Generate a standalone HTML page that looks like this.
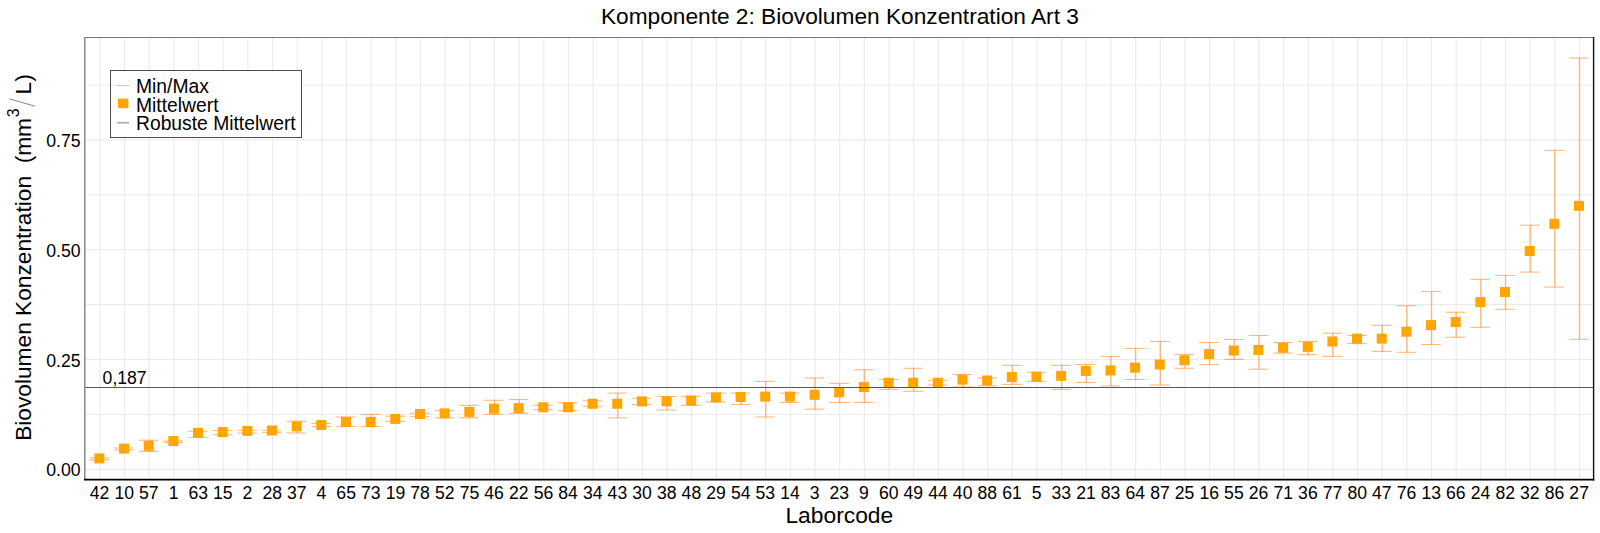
<!DOCTYPE html>
<html><head><meta charset="utf-8"><style>
html,body{margin:0;padding:0;background:#fff;width:1600px;height:533px;overflow:hidden}
svg{display:block}
text{font-family:"Liberation Sans",sans-serif;fill:#000}
</style></head><body>
<svg width="1600" height="533" viewBox="0 0 1600 533">
<line x1="84.5" x2="1593.5" y1="469.35" y2="469.35" stroke="#ebebeb" stroke-width="1.1"/>
<line x1="84.5" x2="1593.5" y1="414.44" y2="414.44" stroke="#ebebeb" stroke-width="1.1"/>
<line x1="84.5" x2="1593.5" y1="359.53" y2="359.53" stroke="#ebebeb" stroke-width="1.1"/>
<line x1="84.5" x2="1593.5" y1="304.61" y2="304.61" stroke="#ebebeb" stroke-width="1.1"/>
<line x1="84.5" x2="1593.5" y1="249.70" y2="249.70" stroke="#ebebeb" stroke-width="1.1"/>
<line x1="84.5" x2="1593.5" y1="194.79" y2="194.79" stroke="#ebebeb" stroke-width="1.1"/>
<line x1="84.5" x2="1593.5" y1="139.88" y2="139.88" stroke="#ebebeb" stroke-width="1.1"/>
<line x1="84.5" x2="1593.5" y1="84.96" y2="84.96" stroke="#ebebeb" stroke-width="1.1"/>
<line x1="99.90" x2="99.90" y1="37.5" y2="479.5" stroke="#ebebeb" stroke-width="1.1"/>
<line x1="124.56" x2="124.56" y1="37.5" y2="479.5" stroke="#ebebeb" stroke-width="1.1"/>
<line x1="149.22" x2="149.22" y1="37.5" y2="479.5" stroke="#ebebeb" stroke-width="1.1"/>
<line x1="173.88" x2="173.88" y1="37.5" y2="479.5" stroke="#ebebeb" stroke-width="1.1"/>
<line x1="198.54" x2="198.54" y1="37.5" y2="479.5" stroke="#ebebeb" stroke-width="1.1"/>
<line x1="223.20" x2="223.20" y1="37.5" y2="479.5" stroke="#ebebeb" stroke-width="1.1"/>
<line x1="247.86" x2="247.86" y1="37.5" y2="479.5" stroke="#ebebeb" stroke-width="1.1"/>
<line x1="272.52" x2="272.52" y1="37.5" y2="479.5" stroke="#ebebeb" stroke-width="1.1"/>
<line x1="297.18" x2="297.18" y1="37.5" y2="479.5" stroke="#ebebeb" stroke-width="1.1"/>
<line x1="321.84" x2="321.84" y1="37.5" y2="479.5" stroke="#ebebeb" stroke-width="1.1"/>
<line x1="346.50" x2="346.50" y1="37.5" y2="479.5" stroke="#ebebeb" stroke-width="1.1"/>
<line x1="371.16" x2="371.16" y1="37.5" y2="479.5" stroke="#ebebeb" stroke-width="1.1"/>
<line x1="395.82" x2="395.82" y1="37.5" y2="479.5" stroke="#ebebeb" stroke-width="1.1"/>
<line x1="420.48" x2="420.48" y1="37.5" y2="479.5" stroke="#ebebeb" stroke-width="1.1"/>
<line x1="445.14" x2="445.14" y1="37.5" y2="479.5" stroke="#ebebeb" stroke-width="1.1"/>
<line x1="469.80" x2="469.80" y1="37.5" y2="479.5" stroke="#ebebeb" stroke-width="1.1"/>
<line x1="494.46" x2="494.46" y1="37.5" y2="479.5" stroke="#ebebeb" stroke-width="1.1"/>
<line x1="519.12" x2="519.12" y1="37.5" y2="479.5" stroke="#ebebeb" stroke-width="1.1"/>
<line x1="543.78" x2="543.78" y1="37.5" y2="479.5" stroke="#ebebeb" stroke-width="1.1"/>
<line x1="568.44" x2="568.44" y1="37.5" y2="479.5" stroke="#ebebeb" stroke-width="1.1"/>
<line x1="593.10" x2="593.10" y1="37.5" y2="479.5" stroke="#ebebeb" stroke-width="1.1"/>
<line x1="617.76" x2="617.76" y1="37.5" y2="479.5" stroke="#ebebeb" stroke-width="1.1"/>
<line x1="642.42" x2="642.42" y1="37.5" y2="479.5" stroke="#ebebeb" stroke-width="1.1"/>
<line x1="667.08" x2="667.08" y1="37.5" y2="479.5" stroke="#ebebeb" stroke-width="1.1"/>
<line x1="691.74" x2="691.74" y1="37.5" y2="479.5" stroke="#ebebeb" stroke-width="1.1"/>
<line x1="716.40" x2="716.40" y1="37.5" y2="479.5" stroke="#ebebeb" stroke-width="1.1"/>
<line x1="741.06" x2="741.06" y1="37.5" y2="479.5" stroke="#ebebeb" stroke-width="1.1"/>
<line x1="765.72" x2="765.72" y1="37.5" y2="479.5" stroke="#ebebeb" stroke-width="1.1"/>
<line x1="790.38" x2="790.38" y1="37.5" y2="479.5" stroke="#ebebeb" stroke-width="1.1"/>
<line x1="815.04" x2="815.04" y1="37.5" y2="479.5" stroke="#ebebeb" stroke-width="1.1"/>
<line x1="839.70" x2="839.70" y1="37.5" y2="479.5" stroke="#ebebeb" stroke-width="1.1"/>
<line x1="864.36" x2="864.36" y1="37.5" y2="479.5" stroke="#ebebeb" stroke-width="1.1"/>
<line x1="889.02" x2="889.02" y1="37.5" y2="479.5" stroke="#ebebeb" stroke-width="1.1"/>
<line x1="913.68" x2="913.68" y1="37.5" y2="479.5" stroke="#ebebeb" stroke-width="1.1"/>
<line x1="938.34" x2="938.34" y1="37.5" y2="479.5" stroke="#ebebeb" stroke-width="1.1"/>
<line x1="963.00" x2="963.00" y1="37.5" y2="479.5" stroke="#ebebeb" stroke-width="1.1"/>
<line x1="987.66" x2="987.66" y1="37.5" y2="479.5" stroke="#ebebeb" stroke-width="1.1"/>
<line x1="1012.32" x2="1012.32" y1="37.5" y2="479.5" stroke="#ebebeb" stroke-width="1.1"/>
<line x1="1036.98" x2="1036.98" y1="37.5" y2="479.5" stroke="#ebebeb" stroke-width="1.1"/>
<line x1="1061.64" x2="1061.64" y1="37.5" y2="479.5" stroke="#ebebeb" stroke-width="1.1"/>
<line x1="1086.30" x2="1086.30" y1="37.5" y2="479.5" stroke="#ebebeb" stroke-width="1.1"/>
<line x1="1110.96" x2="1110.96" y1="37.5" y2="479.5" stroke="#ebebeb" stroke-width="1.1"/>
<line x1="1135.62" x2="1135.62" y1="37.5" y2="479.5" stroke="#ebebeb" stroke-width="1.1"/>
<line x1="1160.28" x2="1160.28" y1="37.5" y2="479.5" stroke="#ebebeb" stroke-width="1.1"/>
<line x1="1184.94" x2="1184.94" y1="37.5" y2="479.5" stroke="#ebebeb" stroke-width="1.1"/>
<line x1="1209.60" x2="1209.60" y1="37.5" y2="479.5" stroke="#ebebeb" stroke-width="1.1"/>
<line x1="1234.26" x2="1234.26" y1="37.5" y2="479.5" stroke="#ebebeb" stroke-width="1.1"/>
<line x1="1258.92" x2="1258.92" y1="37.5" y2="479.5" stroke="#ebebeb" stroke-width="1.1"/>
<line x1="1283.58" x2="1283.58" y1="37.5" y2="479.5" stroke="#ebebeb" stroke-width="1.1"/>
<line x1="1308.24" x2="1308.24" y1="37.5" y2="479.5" stroke="#ebebeb" stroke-width="1.1"/>
<line x1="1332.90" x2="1332.90" y1="37.5" y2="479.5" stroke="#ebebeb" stroke-width="1.1"/>
<line x1="1357.56" x2="1357.56" y1="37.5" y2="479.5" stroke="#ebebeb" stroke-width="1.1"/>
<line x1="1382.22" x2="1382.22" y1="37.5" y2="479.5" stroke="#ebebeb" stroke-width="1.1"/>
<line x1="1406.88" x2="1406.88" y1="37.5" y2="479.5" stroke="#ebebeb" stroke-width="1.1"/>
<line x1="1431.54" x2="1431.54" y1="37.5" y2="479.5" stroke="#ebebeb" stroke-width="1.1"/>
<line x1="1456.20" x2="1456.20" y1="37.5" y2="479.5" stroke="#ebebeb" stroke-width="1.1"/>
<line x1="1480.86" x2="1480.86" y1="37.5" y2="479.5" stroke="#ebebeb" stroke-width="1.1"/>
<line x1="1505.52" x2="1505.52" y1="37.5" y2="479.5" stroke="#ebebeb" stroke-width="1.1"/>
<line x1="1530.18" x2="1530.18" y1="37.5" y2="479.5" stroke="#ebebeb" stroke-width="1.1"/>
<line x1="1554.84" x2="1554.84" y1="37.5" y2="479.5" stroke="#ebebeb" stroke-width="1.1"/>
<line x1="1579.50" x2="1579.50" y1="37.5" y2="479.5" stroke="#ebebeb" stroke-width="1.1"/>
<line x1="99.90" x2="99.90" y1="457.80" y2="459.80" stroke="#ff7d19" stroke-opacity="0.5" stroke-width="1.4"/>
<line x1="89.55" x2="109.05" y1="457.80" y2="457.80" stroke="#ff7d19" stroke-opacity="0.55" stroke-width="1.1"/>
<line x1="89.55" x2="109.05" y1="459.80" y2="459.80" stroke="#ff7d19" stroke-opacity="0.55" stroke-width="1.1"/>
<line x1="124.56" x2="124.56" y1="448.00" y2="450.00" stroke="#ff7d19" stroke-opacity="0.5" stroke-width="1.4"/>
<line x1="114.21" x2="133.71" y1="448.00" y2="448.00" stroke="#ff7d19" stroke-opacity="0.55" stroke-width="1.1"/>
<line x1="114.21" x2="133.71" y1="450.00" y2="450.00" stroke="#ff7d19" stroke-opacity="0.55" stroke-width="1.1"/>
<line x1="149.22" x2="149.22" y1="440.20" y2="451.40" stroke="#ff7d19" stroke-opacity="0.5" stroke-width="1.4"/>
<line x1="138.87" x2="158.37" y1="440.20" y2="440.20" stroke="#ff7d19" stroke-opacity="0.55" stroke-width="1.1"/>
<line x1="138.87" x2="158.37" y1="451.40" y2="451.40" stroke="#ff7d19" stroke-opacity="0.55" stroke-width="1.1"/>
<line x1="173.88" x2="173.88" y1="441.00" y2="442.50" stroke="#ff7d19" stroke-opacity="0.5" stroke-width="1.4"/>
<line x1="163.53" x2="183.03" y1="441.00" y2="441.00" stroke="#ff7d19" stroke-opacity="0.55" stroke-width="1.1"/>
<line x1="163.53" x2="183.03" y1="442.50" y2="442.50" stroke="#ff7d19" stroke-opacity="0.55" stroke-width="1.1"/>
<line x1="198.54" x2="198.54" y1="431.25" y2="437.50" stroke="#ff7d19" stroke-opacity="0.5" stroke-width="1.4"/>
<line x1="188.19" x2="207.69" y1="431.25" y2="431.25" stroke="#ff7d19" stroke-opacity="0.55" stroke-width="1.1"/>
<line x1="188.19" x2="207.69" y1="437.50" y2="437.50" stroke="#ff7d19" stroke-opacity="0.55" stroke-width="1.1"/>
<line x1="223.20" x2="223.20" y1="430.50" y2="434.70" stroke="#ff7d19" stroke-opacity="0.5" stroke-width="1.4"/>
<line x1="212.85" x2="232.35" y1="430.50" y2="430.50" stroke="#ff7d19" stroke-opacity="0.55" stroke-width="1.1"/>
<line x1="212.85" x2="232.35" y1="434.70" y2="434.70" stroke="#ff7d19" stroke-opacity="0.55" stroke-width="1.1"/>
<line x1="247.86" x2="247.86" y1="430.20" y2="433.10" stroke="#ff7d19" stroke-opacity="0.5" stroke-width="1.4"/>
<line x1="237.51" x2="257.01" y1="430.20" y2="430.20" stroke="#ff7d19" stroke-opacity="0.55" stroke-width="1.1"/>
<line x1="237.51" x2="257.01" y1="433.10" y2="433.10" stroke="#ff7d19" stroke-opacity="0.55" stroke-width="1.1"/>
<line x1="272.52" x2="272.52" y1="430.20" y2="432.40" stroke="#ff7d19" stroke-opacity="0.5" stroke-width="1.4"/>
<line x1="262.17" x2="281.67" y1="430.20" y2="430.20" stroke="#ff7d19" stroke-opacity="0.55" stroke-width="1.1"/>
<line x1="262.17" x2="281.67" y1="432.40" y2="432.40" stroke="#ff7d19" stroke-opacity="0.55" stroke-width="1.1"/>
<line x1="297.18" x2="297.18" y1="421.25" y2="433.00" stroke="#ff7d19" stroke-opacity="0.5" stroke-width="1.4"/>
<line x1="286.83" x2="306.33" y1="421.25" y2="421.25" stroke="#ff7d19" stroke-opacity="0.55" stroke-width="1.1"/>
<line x1="286.83" x2="306.33" y1="433.00" y2="433.00" stroke="#ff7d19" stroke-opacity="0.55" stroke-width="1.1"/>
<line x1="321.84" x2="321.84" y1="423.40" y2="426.60" stroke="#ff7d19" stroke-opacity="0.5" stroke-width="1.4"/>
<line x1="311.49" x2="330.99" y1="423.40" y2="423.40" stroke="#ff7d19" stroke-opacity="0.55" stroke-width="1.1"/>
<line x1="311.49" x2="330.99" y1="426.60" y2="426.60" stroke="#ff7d19" stroke-opacity="0.55" stroke-width="1.1"/>
<line x1="346.50" x2="346.50" y1="417.00" y2="426.60" stroke="#ff7d19" stroke-opacity="0.5" stroke-width="1.4"/>
<line x1="336.15" x2="355.65" y1="417.00" y2="417.00" stroke="#ff7d19" stroke-opacity="0.55" stroke-width="1.1"/>
<line x1="336.15" x2="355.65" y1="426.60" y2="426.60" stroke="#ff7d19" stroke-opacity="0.55" stroke-width="1.1"/>
<line x1="371.16" x2="371.16" y1="414.40" y2="426.60" stroke="#ff7d19" stroke-opacity="0.5" stroke-width="1.4"/>
<line x1="360.81" x2="380.31" y1="414.40" y2="414.40" stroke="#ff7d19" stroke-opacity="0.55" stroke-width="1.1"/>
<line x1="360.81" x2="380.31" y1="426.60" y2="426.60" stroke="#ff7d19" stroke-opacity="0.55" stroke-width="1.1"/>
<line x1="395.82" x2="395.82" y1="416.25" y2="421.40" stroke="#ff7d19" stroke-opacity="0.5" stroke-width="1.4"/>
<line x1="385.47" x2="404.97" y1="416.25" y2="416.25" stroke="#ff7d19" stroke-opacity="0.55" stroke-width="1.1"/>
<line x1="385.47" x2="404.97" y1="421.40" y2="421.40" stroke="#ff7d19" stroke-opacity="0.55" stroke-width="1.1"/>
<line x1="420.48" x2="420.48" y1="413.30" y2="416.40" stroke="#ff7d19" stroke-opacity="0.5" stroke-width="1.4"/>
<line x1="410.13" x2="429.63" y1="413.30" y2="413.30" stroke="#ff7d19" stroke-opacity="0.55" stroke-width="1.1"/>
<line x1="410.13" x2="429.63" y1="416.40" y2="416.40" stroke="#ff7d19" stroke-opacity="0.55" stroke-width="1.1"/>
<line x1="445.14" x2="445.14" y1="410.60" y2="417.80" stroke="#ff7d19" stroke-opacity="0.5" stroke-width="1.4"/>
<line x1="434.79" x2="454.29" y1="410.60" y2="410.60" stroke="#ff7d19" stroke-opacity="0.55" stroke-width="1.1"/>
<line x1="434.79" x2="454.29" y1="417.80" y2="417.80" stroke="#ff7d19" stroke-opacity="0.55" stroke-width="1.1"/>
<line x1="469.80" x2="469.80" y1="405.30" y2="417.80" stroke="#ff7d19" stroke-opacity="0.5" stroke-width="1.4"/>
<line x1="459.45" x2="478.95" y1="405.30" y2="405.30" stroke="#ff7d19" stroke-opacity="0.55" stroke-width="1.1"/>
<line x1="459.45" x2="478.95" y1="417.80" y2="417.80" stroke="#ff7d19" stroke-opacity="0.55" stroke-width="1.1"/>
<line x1="494.46" x2="494.46" y1="400.30" y2="414.40" stroke="#ff7d19" stroke-opacity="0.5" stroke-width="1.4"/>
<line x1="484.11" x2="503.61" y1="400.30" y2="400.30" stroke="#ff7d19" stroke-opacity="0.55" stroke-width="1.1"/>
<line x1="484.11" x2="503.61" y1="414.40" y2="414.40" stroke="#ff7d19" stroke-opacity="0.55" stroke-width="1.1"/>
<line x1="519.12" x2="519.12" y1="399.50" y2="413.40" stroke="#ff7d19" stroke-opacity="0.5" stroke-width="1.4"/>
<line x1="508.77" x2="528.27" y1="399.50" y2="399.50" stroke="#ff7d19" stroke-opacity="0.55" stroke-width="1.1"/>
<line x1="508.77" x2="528.27" y1="413.40" y2="413.40" stroke="#ff7d19" stroke-opacity="0.55" stroke-width="1.1"/>
<line x1="543.78" x2="543.78" y1="405.30" y2="409.70" stroke="#ff7d19" stroke-opacity="0.5" stroke-width="1.4"/>
<line x1="533.43" x2="552.93" y1="405.30" y2="405.30" stroke="#ff7d19" stroke-opacity="0.55" stroke-width="1.1"/>
<line x1="533.43" x2="552.93" y1="409.70" y2="409.70" stroke="#ff7d19" stroke-opacity="0.55" stroke-width="1.1"/>
<line x1="568.44" x2="568.44" y1="402.70" y2="410.60" stroke="#ff7d19" stroke-opacity="0.5" stroke-width="1.4"/>
<line x1="558.09" x2="577.59" y1="402.70" y2="402.70" stroke="#ff7d19" stroke-opacity="0.55" stroke-width="1.1"/>
<line x1="558.09" x2="577.59" y1="410.60" y2="410.60" stroke="#ff7d19" stroke-opacity="0.55" stroke-width="1.1"/>
<line x1="593.10" x2="593.10" y1="400.90" y2="406.40" stroke="#ff7d19" stroke-opacity="0.5" stroke-width="1.4"/>
<line x1="582.75" x2="602.25" y1="400.90" y2="400.90" stroke="#ff7d19" stroke-opacity="0.55" stroke-width="1.1"/>
<line x1="582.75" x2="602.25" y1="406.40" y2="406.40" stroke="#ff7d19" stroke-opacity="0.55" stroke-width="1.1"/>
<line x1="617.76" x2="617.76" y1="393.10" y2="417.80" stroke="#ff7d19" stroke-opacity="0.5" stroke-width="1.4"/>
<line x1="607.41" x2="626.91" y1="393.10" y2="393.10" stroke="#ff7d19" stroke-opacity="0.55" stroke-width="1.1"/>
<line x1="607.41" x2="626.91" y1="417.80" y2="417.80" stroke="#ff7d19" stroke-opacity="0.55" stroke-width="1.1"/>
<line x1="642.42" x2="642.42" y1="398.30" y2="404.50" stroke="#ff7d19" stroke-opacity="0.5" stroke-width="1.4"/>
<line x1="632.07" x2="651.57" y1="398.30" y2="398.30" stroke="#ff7d19" stroke-opacity="0.55" stroke-width="1.1"/>
<line x1="632.07" x2="651.57" y1="404.50" y2="404.50" stroke="#ff7d19" stroke-opacity="0.55" stroke-width="1.1"/>
<line x1="667.08" x2="667.08" y1="396.40" y2="410.00" stroke="#ff7d19" stroke-opacity="0.5" stroke-width="1.4"/>
<line x1="656.73" x2="676.23" y1="396.40" y2="396.40" stroke="#ff7d19" stroke-opacity="0.55" stroke-width="1.1"/>
<line x1="656.73" x2="676.23" y1="410.00" y2="410.00" stroke="#ff7d19" stroke-opacity="0.55" stroke-width="1.1"/>
<line x1="691.74" x2="691.74" y1="396.40" y2="405.30" stroke="#ff7d19" stroke-opacity="0.5" stroke-width="1.4"/>
<line x1="681.39" x2="700.89" y1="396.40" y2="396.40" stroke="#ff7d19" stroke-opacity="0.55" stroke-width="1.1"/>
<line x1="681.39" x2="700.89" y1="405.30" y2="405.30" stroke="#ff7d19" stroke-opacity="0.55" stroke-width="1.1"/>
<line x1="716.40" x2="716.40" y1="393.10" y2="401.90" stroke="#ff7d19" stroke-opacity="0.5" stroke-width="1.4"/>
<line x1="706.05" x2="725.55" y1="393.10" y2="393.10" stroke="#ff7d19" stroke-opacity="0.55" stroke-width="1.1"/>
<line x1="706.05" x2="725.55" y1="401.90" y2="401.90" stroke="#ff7d19" stroke-opacity="0.55" stroke-width="1.1"/>
<line x1="741.06" x2="741.06" y1="393.10" y2="404.50" stroke="#ff7d19" stroke-opacity="0.5" stroke-width="1.4"/>
<line x1="730.71" x2="750.21" y1="393.10" y2="393.10" stroke="#ff7d19" stroke-opacity="0.55" stroke-width="1.1"/>
<line x1="730.71" x2="750.21" y1="404.50" y2="404.50" stroke="#ff7d19" stroke-opacity="0.55" stroke-width="1.1"/>
<line x1="765.72" x2="765.72" y1="381.40" y2="417.00" stroke="#ff7d19" stroke-opacity="0.5" stroke-width="1.4"/>
<line x1="755.37" x2="774.87" y1="381.40" y2="381.40" stroke="#ff7d19" stroke-opacity="0.55" stroke-width="1.1"/>
<line x1="755.37" x2="774.87" y1="417.00" y2="417.00" stroke="#ff7d19" stroke-opacity="0.55" stroke-width="1.1"/>
<line x1="790.38" x2="790.38" y1="393.10" y2="402.50" stroke="#ff7d19" stroke-opacity="0.5" stroke-width="1.4"/>
<line x1="780.03" x2="799.53" y1="393.10" y2="393.10" stroke="#ff7d19" stroke-opacity="0.55" stroke-width="1.1"/>
<line x1="780.03" x2="799.53" y1="402.50" y2="402.50" stroke="#ff7d19" stroke-opacity="0.55" stroke-width="1.1"/>
<line x1="815.04" x2="815.04" y1="378.00" y2="409.20" stroke="#ff7d19" stroke-opacity="0.5" stroke-width="1.4"/>
<line x1="804.69" x2="824.19" y1="378.00" y2="378.00" stroke="#ff7d19" stroke-opacity="0.55" stroke-width="1.1"/>
<line x1="804.69" x2="824.19" y1="409.20" y2="409.20" stroke="#ff7d19" stroke-opacity="0.55" stroke-width="1.1"/>
<line x1="839.70" x2="839.70" y1="383.30" y2="402.50" stroke="#ff7d19" stroke-opacity="0.5" stroke-width="1.4"/>
<line x1="829.35" x2="848.85" y1="383.30" y2="383.30" stroke="#ff7d19" stroke-opacity="0.55" stroke-width="1.1"/>
<line x1="829.35" x2="848.85" y1="402.50" y2="402.50" stroke="#ff7d19" stroke-opacity="0.55" stroke-width="1.1"/>
<line x1="864.36" x2="864.36" y1="369.70" y2="402.50" stroke="#ff7d19" stroke-opacity="0.5" stroke-width="1.4"/>
<line x1="854.01" x2="873.51" y1="369.70" y2="369.70" stroke="#ff7d19" stroke-opacity="0.55" stroke-width="1.1"/>
<line x1="854.01" x2="873.51" y1="402.50" y2="402.50" stroke="#ff7d19" stroke-opacity="0.55" stroke-width="1.1"/>
<line x1="889.02" x2="889.02" y1="379.50" y2="389.40" stroke="#ff7d19" stroke-opacity="0.5" stroke-width="1.4"/>
<line x1="878.67" x2="898.17" y1="379.50" y2="379.50" stroke="#ff7d19" stroke-opacity="0.55" stroke-width="1.1"/>
<line x1="878.67" x2="898.17" y1="389.40" y2="389.40" stroke="#ff7d19" stroke-opacity="0.55" stroke-width="1.1"/>
<line x1="913.68" x2="913.68" y1="368.30" y2="391.25" stroke="#ff7d19" stroke-opacity="0.5" stroke-width="1.4"/>
<line x1="903.33" x2="922.83" y1="368.30" y2="368.30" stroke="#ff7d19" stroke-opacity="0.55" stroke-width="1.1"/>
<line x1="903.33" x2="922.83" y1="391.25" y2="391.25" stroke="#ff7d19" stroke-opacity="0.55" stroke-width="1.1"/>
<line x1="938.34" x2="938.34" y1="380.30" y2="385.00" stroke="#ff7d19" stroke-opacity="0.5" stroke-width="1.4"/>
<line x1="927.99" x2="947.49" y1="380.30" y2="380.30" stroke="#ff7d19" stroke-opacity="0.55" stroke-width="1.1"/>
<line x1="927.99" x2="947.49" y1="385.00" y2="385.00" stroke="#ff7d19" stroke-opacity="0.55" stroke-width="1.1"/>
<line x1="963.00" x2="963.00" y1="374.40" y2="386.90" stroke="#ff7d19" stroke-opacity="0.5" stroke-width="1.4"/>
<line x1="952.65" x2="972.15" y1="374.40" y2="374.40" stroke="#ff7d19" stroke-opacity="0.55" stroke-width="1.1"/>
<line x1="952.65" x2="972.15" y1="386.90" y2="386.90" stroke="#ff7d19" stroke-opacity="0.55" stroke-width="1.1"/>
<line x1="987.66" x2="987.66" y1="377.80" y2="385.80" stroke="#ff7d19" stroke-opacity="0.5" stroke-width="1.4"/>
<line x1="977.31" x2="996.81" y1="377.80" y2="377.80" stroke="#ff7d19" stroke-opacity="0.55" stroke-width="1.1"/>
<line x1="977.31" x2="996.81" y1="385.80" y2="385.80" stroke="#ff7d19" stroke-opacity="0.55" stroke-width="1.1"/>
<line x1="1012.32" x2="1012.32" y1="365.30" y2="384.40" stroke="#ff7d19" stroke-opacity="0.5" stroke-width="1.4"/>
<line x1="1001.97" x2="1021.47" y1="365.30" y2="365.30" stroke="#ff7d19" stroke-opacity="0.55" stroke-width="1.1"/>
<line x1="1001.97" x2="1021.47" y1="384.40" y2="384.40" stroke="#ff7d19" stroke-opacity="0.55" stroke-width="1.1"/>
<line x1="1036.98" x2="1036.98" y1="372.30" y2="381.40" stroke="#ff7d19" stroke-opacity="0.5" stroke-width="1.4"/>
<line x1="1026.63" x2="1046.13" y1="372.30" y2="372.30" stroke="#ff7d19" stroke-opacity="0.55" stroke-width="1.1"/>
<line x1="1026.63" x2="1046.13" y1="381.40" y2="381.40" stroke="#ff7d19" stroke-opacity="0.55" stroke-width="1.1"/>
<line x1="1061.64" x2="1061.64" y1="365.30" y2="389.40" stroke="#ff7d19" stroke-opacity="0.5" stroke-width="1.4"/>
<line x1="1051.29" x2="1070.79" y1="365.30" y2="365.30" stroke="#ff7d19" stroke-opacity="0.55" stroke-width="1.1"/>
<line x1="1051.29" x2="1070.79" y1="389.40" y2="389.40" stroke="#ff7d19" stroke-opacity="0.55" stroke-width="1.1"/>
<line x1="1086.30" x2="1086.30" y1="364.50" y2="382.50" stroke="#ff7d19" stroke-opacity="0.5" stroke-width="1.4"/>
<line x1="1075.95" x2="1095.45" y1="364.50" y2="364.50" stroke="#ff7d19" stroke-opacity="0.55" stroke-width="1.1"/>
<line x1="1075.95" x2="1095.45" y1="382.50" y2="382.50" stroke="#ff7d19" stroke-opacity="0.55" stroke-width="1.1"/>
<line x1="1110.96" x2="1110.96" y1="356.40" y2="385.90" stroke="#ff7d19" stroke-opacity="0.5" stroke-width="1.4"/>
<line x1="1100.61" x2="1120.11" y1="356.40" y2="356.40" stroke="#ff7d19" stroke-opacity="0.55" stroke-width="1.1"/>
<line x1="1100.61" x2="1120.11" y1="385.90" y2="385.90" stroke="#ff7d19" stroke-opacity="0.55" stroke-width="1.1"/>
<line x1="1135.62" x2="1135.62" y1="348.40" y2="379.50" stroke="#ff7d19" stroke-opacity="0.5" stroke-width="1.4"/>
<line x1="1125.27" x2="1144.77" y1="348.40" y2="348.40" stroke="#ff7d19" stroke-opacity="0.55" stroke-width="1.1"/>
<line x1="1125.27" x2="1144.77" y1="379.50" y2="379.50" stroke="#ff7d19" stroke-opacity="0.55" stroke-width="1.1"/>
<line x1="1160.28" x2="1160.28" y1="341.40" y2="385.00" stroke="#ff7d19" stroke-opacity="0.5" stroke-width="1.4"/>
<line x1="1149.93" x2="1169.43" y1="341.40" y2="341.40" stroke="#ff7d19" stroke-opacity="0.55" stroke-width="1.1"/>
<line x1="1149.93" x2="1169.43" y1="385.00" y2="385.00" stroke="#ff7d19" stroke-opacity="0.55" stroke-width="1.1"/>
<line x1="1184.94" x2="1184.94" y1="354.40" y2="368.30" stroke="#ff7d19" stroke-opacity="0.5" stroke-width="1.4"/>
<line x1="1174.59" x2="1194.09" y1="354.40" y2="354.40" stroke="#ff7d19" stroke-opacity="0.55" stroke-width="1.1"/>
<line x1="1174.59" x2="1194.09" y1="368.30" y2="368.30" stroke="#ff7d19" stroke-opacity="0.55" stroke-width="1.1"/>
<line x1="1209.60" x2="1209.60" y1="342.50" y2="364.50" stroke="#ff7d19" stroke-opacity="0.5" stroke-width="1.4"/>
<line x1="1199.25" x2="1218.75" y1="342.50" y2="342.50" stroke="#ff7d19" stroke-opacity="0.55" stroke-width="1.1"/>
<line x1="1199.25" x2="1218.75" y1="364.50" y2="364.50" stroke="#ff7d19" stroke-opacity="0.55" stroke-width="1.1"/>
<line x1="1234.26" x2="1234.26" y1="339.50" y2="359.40" stroke="#ff7d19" stroke-opacity="0.5" stroke-width="1.4"/>
<line x1="1223.91" x2="1243.41" y1="339.50" y2="339.50" stroke="#ff7d19" stroke-opacity="0.55" stroke-width="1.1"/>
<line x1="1223.91" x2="1243.41" y1="359.40" y2="359.40" stroke="#ff7d19" stroke-opacity="0.55" stroke-width="1.1"/>
<line x1="1258.92" x2="1258.92" y1="335.50" y2="369.20" stroke="#ff7d19" stroke-opacity="0.5" stroke-width="1.4"/>
<line x1="1248.57" x2="1268.07" y1="335.50" y2="335.50" stroke="#ff7d19" stroke-opacity="0.55" stroke-width="1.1"/>
<line x1="1248.57" x2="1268.07" y1="369.20" y2="369.20" stroke="#ff7d19" stroke-opacity="0.55" stroke-width="1.1"/>
<line x1="1283.58" x2="1283.58" y1="342.50" y2="353.10" stroke="#ff7d19" stroke-opacity="0.5" stroke-width="1.4"/>
<line x1="1273.23" x2="1292.73" y1="342.50" y2="342.50" stroke="#ff7d19" stroke-opacity="0.55" stroke-width="1.1"/>
<line x1="1273.23" x2="1292.73" y1="353.10" y2="353.10" stroke="#ff7d19" stroke-opacity="0.55" stroke-width="1.1"/>
<line x1="1308.24" x2="1308.24" y1="341.40" y2="354.70" stroke="#ff7d19" stroke-opacity="0.5" stroke-width="1.4"/>
<line x1="1297.89" x2="1317.39" y1="341.40" y2="341.40" stroke="#ff7d19" stroke-opacity="0.55" stroke-width="1.1"/>
<line x1="1297.89" x2="1317.39" y1="354.70" y2="354.70" stroke="#ff7d19" stroke-opacity="0.55" stroke-width="1.1"/>
<line x1="1332.90" x2="1332.90" y1="333.20" y2="356.40" stroke="#ff7d19" stroke-opacity="0.5" stroke-width="1.4"/>
<line x1="1322.55" x2="1342.05" y1="333.20" y2="333.20" stroke="#ff7d19" stroke-opacity="0.55" stroke-width="1.1"/>
<line x1="1322.55" x2="1342.05" y1="356.40" y2="356.40" stroke="#ff7d19" stroke-opacity="0.55" stroke-width="1.1"/>
<line x1="1357.56" x2="1357.56" y1="335.50" y2="343.60" stroke="#ff7d19" stroke-opacity="0.5" stroke-width="1.4"/>
<line x1="1347.21" x2="1366.71" y1="335.50" y2="335.50" stroke="#ff7d19" stroke-opacity="0.55" stroke-width="1.1"/>
<line x1="1347.21" x2="1366.71" y1="343.60" y2="343.60" stroke="#ff7d19" stroke-opacity="0.55" stroke-width="1.1"/>
<line x1="1382.22" x2="1382.22" y1="325.30" y2="351.40" stroke="#ff7d19" stroke-opacity="0.5" stroke-width="1.4"/>
<line x1="1371.87" x2="1391.37" y1="325.30" y2="325.30" stroke="#ff7d19" stroke-opacity="0.55" stroke-width="1.1"/>
<line x1="1371.87" x2="1391.37" y1="351.40" y2="351.40" stroke="#ff7d19" stroke-opacity="0.55" stroke-width="1.1"/>
<line x1="1406.88" x2="1406.88" y1="305.70" y2="352.30" stroke="#ff7d19" stroke-opacity="0.5" stroke-width="1.4"/>
<line x1="1396.53" x2="1416.03" y1="305.70" y2="305.70" stroke="#ff7d19" stroke-opacity="0.55" stroke-width="1.1"/>
<line x1="1396.53" x2="1416.03" y1="352.30" y2="352.30" stroke="#ff7d19" stroke-opacity="0.55" stroke-width="1.1"/>
<line x1="1431.54" x2="1431.54" y1="291.50" y2="344.50" stroke="#ff7d19" stroke-opacity="0.5" stroke-width="1.4"/>
<line x1="1421.19" x2="1440.69" y1="291.50" y2="291.50" stroke="#ff7d19" stroke-opacity="0.55" stroke-width="1.1"/>
<line x1="1421.19" x2="1440.69" y1="344.50" y2="344.50" stroke="#ff7d19" stroke-opacity="0.55" stroke-width="1.1"/>
<line x1="1456.20" x2="1456.20" y1="312.25" y2="337.25" stroke="#ff7d19" stroke-opacity="0.5" stroke-width="1.4"/>
<line x1="1445.85" x2="1465.35" y1="312.25" y2="312.25" stroke="#ff7d19" stroke-opacity="0.55" stroke-width="1.1"/>
<line x1="1445.85" x2="1465.35" y1="337.25" y2="337.25" stroke="#ff7d19" stroke-opacity="0.55" stroke-width="1.1"/>
<line x1="1480.86" x2="1480.86" y1="279.30" y2="327.30" stroke="#ff7d19" stroke-opacity="0.5" stroke-width="1.4"/>
<line x1="1470.51" x2="1490.01" y1="279.30" y2="279.30" stroke="#ff7d19" stroke-opacity="0.55" stroke-width="1.1"/>
<line x1="1470.51" x2="1490.01" y1="327.30" y2="327.30" stroke="#ff7d19" stroke-opacity="0.55" stroke-width="1.1"/>
<line x1="1505.52" x2="1505.52" y1="275.40" y2="309.30" stroke="#ff7d19" stroke-opacity="0.5" stroke-width="1.4"/>
<line x1="1495.17" x2="1514.67" y1="275.40" y2="275.40" stroke="#ff7d19" stroke-opacity="0.55" stroke-width="1.1"/>
<line x1="1495.17" x2="1514.67" y1="309.30" y2="309.30" stroke="#ff7d19" stroke-opacity="0.55" stroke-width="1.1"/>
<line x1="1530.18" x2="1530.18" y1="225.20" y2="272.10" stroke="#ff7d19" stroke-opacity="0.5" stroke-width="1.4"/>
<line x1="1519.83" x2="1539.33" y1="225.20" y2="225.20" stroke="#ff7d19" stroke-opacity="0.55" stroke-width="1.1"/>
<line x1="1519.83" x2="1539.33" y1="272.10" y2="272.10" stroke="#ff7d19" stroke-opacity="0.55" stroke-width="1.1"/>
<line x1="1554.84" x2="1554.84" y1="150.30" y2="287.10" stroke="#ff7d19" stroke-opacity="0.5" stroke-width="1.4"/>
<line x1="1544.49" x2="1563.99" y1="150.30" y2="150.30" stroke="#ff7d19" stroke-opacity="0.55" stroke-width="1.1"/>
<line x1="1544.49" x2="1563.99" y1="287.10" y2="287.10" stroke="#ff7d19" stroke-opacity="0.55" stroke-width="1.1"/>
<line x1="1579.50" x2="1579.50" y1="58.00" y2="339.30" stroke="#ff7d19" stroke-opacity="0.5" stroke-width="1.4"/>
<line x1="1569.15" x2="1588.65" y1="58.00" y2="58.00" stroke="#ff7d19" stroke-opacity="0.55" stroke-width="1.1"/>
<line x1="1569.15" x2="1588.65" y1="339.30" y2="339.30" stroke="#ff7d19" stroke-opacity="0.55" stroke-width="1.1"/>
<rect x="94.40" y="453.40" width="10" height="10" fill="#ffa500"/>
<rect x="119.06" y="443.60" width="10" height="10" fill="#ffa500"/>
<rect x="143.72" y="440.90" width="10" height="10" fill="#ffa500"/>
<rect x="168.38" y="436.00" width="10" height="10" fill="#ffa500"/>
<rect x="193.04" y="427.80" width="10" height="10" fill="#ffa500"/>
<rect x="217.70" y="427.10" width="10" height="10" fill="#ffa500"/>
<rect x="242.36" y="425.90" width="10" height="10" fill="#ffa500"/>
<rect x="267.02" y="425.50" width="10" height="10" fill="#ffa500"/>
<rect x="291.68" y="421.40" width="10" height="10" fill="#ffa500"/>
<rect x="316.34" y="420.00" width="10" height="10" fill="#ffa500"/>
<rect x="341.00" y="416.90" width="10" height="10" fill="#ffa500"/>
<rect x="365.66" y="416.90" width="10" height="10" fill="#ffa500"/>
<rect x="390.32" y="413.90" width="10" height="10" fill="#ffa500"/>
<rect x="414.98" y="409.00" width="10" height="10" fill="#ffa500"/>
<rect x="439.64" y="408.40" width="10" height="10" fill="#ffa500"/>
<rect x="464.30" y="406.90" width="10" height="10" fill="#ffa500"/>
<rect x="488.96" y="403.75" width="10" height="10" fill="#ffa500"/>
<rect x="513.62" y="403.10" width="10" height="10" fill="#ffa500"/>
<rect x="538.28" y="402.30" width="10" height="10" fill="#ffa500"/>
<rect x="562.94" y="402.30" width="10" height="10" fill="#ffa500"/>
<rect x="587.60" y="398.75" width="10" height="10" fill="#ffa500"/>
<rect x="612.26" y="398.75" width="10" height="10" fill="#ffa500"/>
<rect x="636.92" y="396.40" width="10" height="10" fill="#ffa500"/>
<rect x="661.58" y="396.25" width="10" height="10" fill="#ffa500"/>
<rect x="686.24" y="395.50" width="10" height="10" fill="#ffa500"/>
<rect x="710.90" y="392.50" width="10" height="10" fill="#ffa500"/>
<rect x="735.56" y="392.00" width="10" height="10" fill="#ffa500"/>
<rect x="760.22" y="391.60" width="10" height="10" fill="#ffa500"/>
<rect x="784.88" y="391.60" width="10" height="10" fill="#ffa500"/>
<rect x="809.54" y="389.80" width="10" height="10" fill="#ffa500"/>
<rect x="834.20" y="387.30" width="10" height="10" fill="#ffa500"/>
<rect x="858.86" y="382.10" width="10" height="10" fill="#ffa500"/>
<rect x="883.52" y="377.70" width="10" height="10" fill="#ffa500"/>
<rect x="908.18" y="377.70" width="10" height="10" fill="#ffa500"/>
<rect x="932.84" y="377.70" width="10" height="10" fill="#ffa500"/>
<rect x="957.50" y="374.60" width="10" height="10" fill="#ffa500"/>
<rect x="982.16" y="375.50" width="10" height="10" fill="#ffa500"/>
<rect x="1006.82" y="372.10" width="10" height="10" fill="#ffa500"/>
<rect x="1031.48" y="371.70" width="10" height="10" fill="#ffa500"/>
<rect x="1056.14" y="370.90" width="10" height="10" fill="#ffa500"/>
<rect x="1080.80" y="365.90" width="10" height="10" fill="#ffa500"/>
<rect x="1105.46" y="365.40" width="10" height="10" fill="#ffa500"/>
<rect x="1130.12" y="362.70" width="10" height="10" fill="#ffa500"/>
<rect x="1154.78" y="359.50" width="10" height="10" fill="#ffa500"/>
<rect x="1179.44" y="355.20" width="10" height="10" fill="#ffa500"/>
<rect x="1204.10" y="349.10" width="10" height="10" fill="#ffa500"/>
<rect x="1228.76" y="345.50" width="10" height="10" fill="#ffa500"/>
<rect x="1253.42" y="344.90" width="10" height="10" fill="#ffa500"/>
<rect x="1278.08" y="342.70" width="10" height="10" fill="#ffa500"/>
<rect x="1302.74" y="341.90" width="10" height="10" fill="#ffa500"/>
<rect x="1327.40" y="336.50" width="10" height="10" fill="#ffa500"/>
<rect x="1352.06" y="333.60" width="10" height="10" fill="#ffa500"/>
<rect x="1376.72" y="333.60" width="10" height="10" fill="#ffa500"/>
<rect x="1401.38" y="326.70" width="10" height="10" fill="#ffa500"/>
<rect x="1426.04" y="320.10" width="10" height="10" fill="#ffa500"/>
<rect x="1450.70" y="317.05" width="10" height="10" fill="#ffa500"/>
<rect x="1475.36" y="297.10" width="10" height="10" fill="#ffa500"/>
<rect x="1500.02" y="287.00" width="10" height="10" fill="#ffa500"/>
<rect x="1524.68" y="246.00" width="10" height="10" fill="#ffa500"/>
<rect x="1549.34" y="218.80" width="10" height="10" fill="#ffa500"/>
<rect x="1574.00" y="200.80" width="10" height="10" fill="#ffa500"/>
<line x1="84.5" x2="1593.5" y1="387.5" y2="387.5" stroke="#555" stroke-width="1.1"/>
<text x="102.6" y="384.2" font-size="17.6">0,187</text>
<line x1="84.5" x2="1593.5" y1="37.5" y2="37.5" stroke="#777" stroke-width="1"/>
<line x1="84.8" x2="84.8" y1="37" y2="480" stroke="#888" stroke-width="1.5"/>
<line x1="1593.6" x2="1593.6" y1="37" y2="480.5" stroke="#111" stroke-width="1.4"/>
<line x1="84" x2="1594.3" y1="479.6" y2="479.6" stroke="#000" stroke-width="1.6"/>
<text x="80.6" y="476.45" font-size="17.7" text-anchor="end">0.00</text>
<text x="80.6" y="366.63" font-size="17.7" text-anchor="end">0.25</text>
<text x="80.6" y="256.80" font-size="17.7" text-anchor="end">0.50</text>
<text x="80.6" y="146.97" font-size="17.7" text-anchor="end">0.75</text>
<text x="99.55" y="498.8" font-size="17.6" text-anchor="middle">42</text>
<text x="124.21" y="498.8" font-size="17.6" text-anchor="middle">10</text>
<text x="148.87" y="498.8" font-size="17.6" text-anchor="middle">57</text>
<text x="173.53" y="498.8" font-size="17.6" text-anchor="middle">1</text>
<text x="198.19" y="498.8" font-size="17.6" text-anchor="middle">63</text>
<text x="222.85" y="498.8" font-size="17.6" text-anchor="middle">15</text>
<text x="247.51" y="498.8" font-size="17.6" text-anchor="middle">2</text>
<text x="272.17" y="498.8" font-size="17.6" text-anchor="middle">28</text>
<text x="296.83" y="498.8" font-size="17.6" text-anchor="middle">37</text>
<text x="321.49" y="498.8" font-size="17.6" text-anchor="middle">4</text>
<text x="346.15" y="498.8" font-size="17.6" text-anchor="middle">65</text>
<text x="370.81" y="498.8" font-size="17.6" text-anchor="middle">73</text>
<text x="395.47" y="498.8" font-size="17.6" text-anchor="middle">19</text>
<text x="420.13" y="498.8" font-size="17.6" text-anchor="middle">78</text>
<text x="444.79" y="498.8" font-size="17.6" text-anchor="middle">52</text>
<text x="469.45" y="498.8" font-size="17.6" text-anchor="middle">75</text>
<text x="494.11" y="498.8" font-size="17.6" text-anchor="middle">46</text>
<text x="518.77" y="498.8" font-size="17.6" text-anchor="middle">22</text>
<text x="543.43" y="498.8" font-size="17.6" text-anchor="middle">56</text>
<text x="568.09" y="498.8" font-size="17.6" text-anchor="middle">84</text>
<text x="592.75" y="498.8" font-size="17.6" text-anchor="middle">34</text>
<text x="617.41" y="498.8" font-size="17.6" text-anchor="middle">43</text>
<text x="642.07" y="498.8" font-size="17.6" text-anchor="middle">30</text>
<text x="666.73" y="498.8" font-size="17.6" text-anchor="middle">38</text>
<text x="691.39" y="498.8" font-size="17.6" text-anchor="middle">48</text>
<text x="716.05" y="498.8" font-size="17.6" text-anchor="middle">29</text>
<text x="740.71" y="498.8" font-size="17.6" text-anchor="middle">54</text>
<text x="765.37" y="498.8" font-size="17.6" text-anchor="middle">53</text>
<text x="790.03" y="498.8" font-size="17.6" text-anchor="middle">14</text>
<text x="814.69" y="498.8" font-size="17.6" text-anchor="middle">3</text>
<text x="839.35" y="498.8" font-size="17.6" text-anchor="middle">23</text>
<text x="864.01" y="498.8" font-size="17.6" text-anchor="middle">9</text>
<text x="888.67" y="498.8" font-size="17.6" text-anchor="middle">60</text>
<text x="913.33" y="498.8" font-size="17.6" text-anchor="middle">49</text>
<text x="937.99" y="498.8" font-size="17.6" text-anchor="middle">44</text>
<text x="962.65" y="498.8" font-size="17.6" text-anchor="middle">40</text>
<text x="987.31" y="498.8" font-size="17.6" text-anchor="middle">88</text>
<text x="1011.97" y="498.8" font-size="17.6" text-anchor="middle">61</text>
<text x="1036.63" y="498.8" font-size="17.6" text-anchor="middle">5</text>
<text x="1061.29" y="498.8" font-size="17.6" text-anchor="middle">33</text>
<text x="1085.95" y="498.8" font-size="17.6" text-anchor="middle">21</text>
<text x="1110.61" y="498.8" font-size="17.6" text-anchor="middle">83</text>
<text x="1135.27" y="498.8" font-size="17.6" text-anchor="middle">64</text>
<text x="1159.93" y="498.8" font-size="17.6" text-anchor="middle">87</text>
<text x="1184.59" y="498.8" font-size="17.6" text-anchor="middle">25</text>
<text x="1209.25" y="498.8" font-size="17.6" text-anchor="middle">16</text>
<text x="1233.91" y="498.8" font-size="17.6" text-anchor="middle">55</text>
<text x="1258.57" y="498.8" font-size="17.6" text-anchor="middle">26</text>
<text x="1283.23" y="498.8" font-size="17.6" text-anchor="middle">71</text>
<text x="1307.89" y="498.8" font-size="17.6" text-anchor="middle">36</text>
<text x="1332.55" y="498.8" font-size="17.6" text-anchor="middle">77</text>
<text x="1357.21" y="498.8" font-size="17.6" text-anchor="middle">80</text>
<text x="1381.87" y="498.8" font-size="17.6" text-anchor="middle">47</text>
<text x="1406.53" y="498.8" font-size="17.6" text-anchor="middle">76</text>
<text x="1431.19" y="498.8" font-size="17.6" text-anchor="middle">13</text>
<text x="1455.85" y="498.8" font-size="17.6" text-anchor="middle">66</text>
<text x="1480.51" y="498.8" font-size="17.6" text-anchor="middle">24</text>
<text x="1505.17" y="498.8" font-size="17.6" text-anchor="middle">82</text>
<text x="1529.83" y="498.8" font-size="17.6" text-anchor="middle">32</text>
<text x="1554.49" y="498.8" font-size="17.6" text-anchor="middle">86</text>
<text x="1579.15" y="498.8" font-size="17.6" text-anchor="middle">27</text>
<text x="839.9" y="23.6" font-size="22.7" text-anchor="middle">Komponente 2: Biovolumen Konzentration Art 3</text>
<text x="839.3" y="523.2" font-size="22.8" text-anchor="middle">Laborcode</text>
<g transform="translate(31.2,440.8) rotate(-90)"><text x="0" y="0" font-size="22.7" style="white-space:pre">Biovolumen Konzentration  (mm</text><text x="323.5" y="-12.3" font-size="15.9">3</text><line x1="334.6" y1="3.8" x2="341.9" y2="-21.8" stroke="#777" stroke-width="0.9"/><text x="346.4" y="0" font-size="22.7">L)</text></g>
<rect x="110.5" y="70.5" width="191" height="67" fill="#fff" stroke="#4a4a4a" stroke-width="1"/>
<line x1="117" x2="129" y1="85.5" y2="85.5" stroke="#ff7d19" stroke-opacity="0.5" stroke-width="1.1"/>
<rect x="118" y="98.6" width="10.4" height="9.6" fill="#ffa500"/>
<line x1="117" x2="129" y1="122.7" y2="122.7" stroke="#ababab" stroke-width="1.6"/>
<text x="136" y="92.7" font-size="19.3">Min/Max</text>
<text x="136" y="111.8" font-size="19.3">Mittelwert</text>
<text x="136" y="129.7" font-size="19.3">Robuste Mittelwert</text>
</svg>
</body></html>
